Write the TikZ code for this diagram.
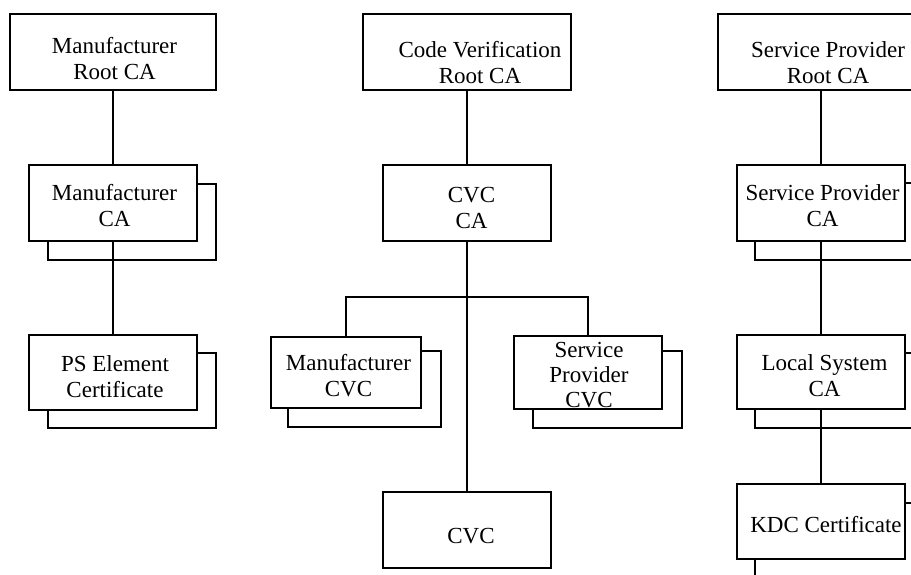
\documentclass[tikz,border=0pt]{standalone}
\usepackage{fontspec}
\setmainfont{Liberation Serif}
% label text: #1 = extra left space (twice the horizontal shift), #2 = raise of first baseline
\newcommand\boxlbl[3]{\hspace*{#1}\raisebox{#2}[0pt][0pt]{\begin{tabular}[t]{@{}c@{}}#3\end{tabular}}}
\tikzset{
  cabox/.style={draw, fill=white, inner sep=0pt, line width=1.4pt,
    font=\fontsize{23}{26}\selectfont},
  backbox/.style={draw, fill=white, inner sep=0pt, line width=1.4pt},
  sz/.style 2 args={minimum width=#1pt, minimum height=#2pt},
  link/.style={draw, line width=1.4pt}
}
\begin{document}
\begin{tikzpicture}[x=1pt, y=-1pt]
\useasboundingbox (0,0) rectangle (911,574);
\clip (0,0) rectangle (911,574);

% back sheets of the stacked certificates
\node[backbox, sz={168}{76}] (mcaS)   at (132,222)   {};
\node[backbox, sz={168}{75}] (psS)    at (132,390.5) {};
\node[backbox, sz={153}{76}] (mcvcS)  at (364.5,389) {};
\node[backbox, sz={149}{77}] (spcvcS) at (607.5,389.5) {};
\node[backbox, sz={168}{77}] (spcaS)  at (839,221.5) {};
\node[backbox, sz={168}{75}] (lscaS)  at (839,390.5) {};
\node[backbox, sz={168}{76}] (kdcS)   at (839,541)   {};

% manufacturer hierarchy
\node[cabox, sz={206}{76}] (mroot) at (113,52)    {\boxlbl{3pt}{-1pt}{Manufacturer\\Root CA}};
\node[cabox, sz={168}{76}] (mca)   at (113,203)   {\boxlbl{3pt}{3pt}{Manufacturer\\CA}};
\node[cabox, sz={168}{75}] (ps)    at (113,372.5) {\boxlbl{4pt}{1.5pt}{PS Element\\Certificate}};

% code verification hierarchy
\node[cabox, sz={208}{76}] (cvroot) at (467,52)      {\boxlbl{26pt}{-5pt}{Code Verification\\Root CA}};
\node[cabox, sz={168}{76}] (cvcca)  at (467,203)     {\boxlbl{9pt}{1pt}{CVC\\CA}};
\node[cabox, sz={150}{71}] (mcvc)   at (346,372.5)   {\boxlbl{5pt}{2.5pt}{Manufacturer\\CVC}};
\node[cabox, sz={148}{73}, font=\fontsize{23}{25}\selectfont] (spcvc) at (588,372.5) {\boxlbl{2pt}{15.5pt}{Service\\Provider\\CVC}};
\node[cabox, sz={168}{76}] (cvc)    at (467,530)     {\boxlbl{8pt}{-13pt}{CVC}};

% service provider hierarchy
\node[cabox, sz={206}{76}] (sproot) at (821,52)    {\boxlbl{14pt}{-5pt}{Service Provider\\Root CA}};
\node[cabox, sz={168}{76}] (spca)   at (821,203)   {\boxlbl{3pt}{3pt}{Service Provider\\CA}};
\node[cabox, sz={168}{74}] (lsca)   at (821,372)   {\boxlbl{7pt}{1.5pt}{Local System\\CA}};
\node[cabox, sz={168}{75}] (kdc)    at (821,521.5) {\boxlbl{10pt}{-10.5pt}{KDC Certificate}};

% connectors
\path[link] (mroot) -- (mca);
\path[link] (mca) -- (ps);
\path[link] (cvroot) -- (cvcca);
\path[link] (cvcca) -- (cvc);
\coordinate (bus) at (467,297);
\path[link] (mcvc.north) |- (bus) -| (spcvc.north);
\path[link] (sproot) -- (spca);
\path[link] (spca) -- (lsca);
\path[link] (lsca) -- (kdc);
\end{tikzpicture}
\end{document}
